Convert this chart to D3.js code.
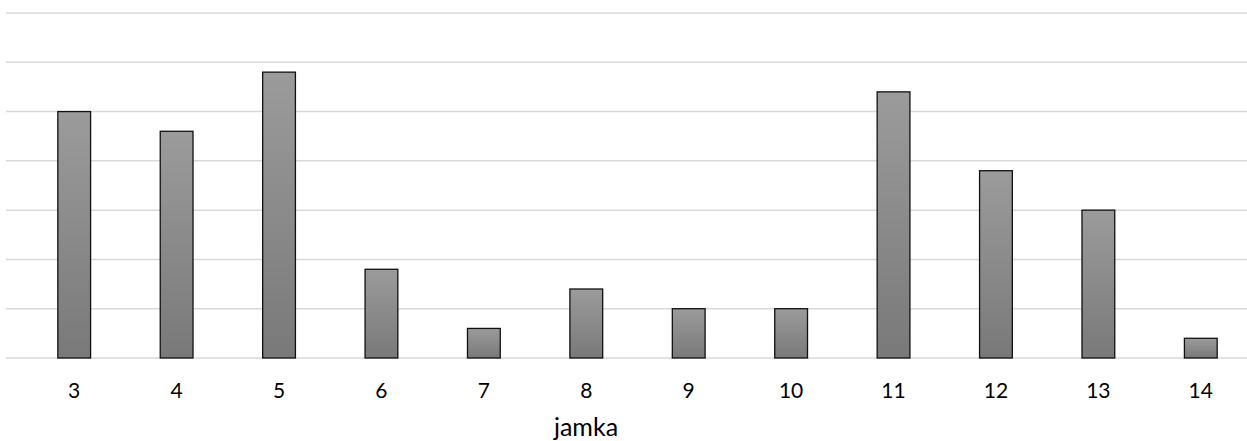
<!DOCTYPE html>
<html lang="pl">
<head>
    <meta charset="UTF-8">
    <title>jamka</title>
    <script src="https://cdn.jsdelivr.net/npm/d3@7/dist/d3.min.js"></script>
    <style>
        body { margin: 0; background: #fff; }
        svg text { font-family: Lato, "Open Sans", sans-serif; fill: #000; }
    </style>
</head>
<body>
    <div id="grafico"></div>
    <script type="text/javascript">

        // data
        var categorias = ["3", "4", "5", "6", "7", "8", "9", "10", "11", "12", "13", "14"];
        var valores = [25, 23, 29, 9, 3, 7, 5, 5, 27, 19, 15, 2];
        var ticksY = [0, 5, 10, 15, 20, 25, 30, 35];
        var tituloX = "jamka";

        var w = 1247;
        var h = 441;

        var xScale = d3.scaleBand()
            .domain(categorias)
            .range([23, 1252])
            .paddingInner(0.68)
            .paddingOuter(0.34);

        var yScale = d3.scaleLinear()
            .domain([0, 35])
            .range([358, 13]);

        var svg = d3.select("#grafico")
            .append("svg")
            .attr("width", w)
            .attr("height", h);

        var grad = svg.append("defs").append("linearGradient")
            .attr("id", "barGrad")
            .attr("x1", 0).attr("y1", 0).attr("x2", 0).attr("y2", 1);
        grad.append("stop").attr("offset", "0%").attr("stop-color", "#9b9b9b");
        grad.append("stop").attr("offset", "100%").attr("stop-color", "#797979");

        // gridlines
        svg.selectAll("line.grid")
            .data(ticksY)
            .enter()
            .append("line")
            .attr("class", "grid")
            .attr("x1", 6)
            .attr("x2", w)
            .attr("y1", function(d) { return yScale(d); })
            .attr("y2", function(d) { return yScale(d); })
            .attr("stroke", "#d9d9d9")
            .attr("stroke-width", 1.5);

        // bars
        svg.selectAll("rect.bar")
            .data(valores)
            .enter()
            .append("rect")
            .attr("class", "bar")
            .attr("x", function(d, i) { return xScale(categorias[i]); })
            .attr("y", function(d) { return yScale(d); })
            .attr("width", xScale.bandwidth())
            .attr("height", function(d) { return yScale(0) - yScale(d); })
            .attr("fill", "url(#barGrad)")
            .attr("stroke", "#111")
            .attr("stroke-width", 1.3);

        // x axis labels
        var xAxis = d3.axisBottom(xScale).tickSize(0).tickPadding(25);
        var gx = svg.append("g")
            .attr("transform", "translate(0," + yScale(0) + ")")
            .call(xAxis);
        gx.select(".domain").remove();
        gx.selectAll("text")
            .attr("font-size", "21px")
            .style("font-family", "Lato, 'Open Sans', sans-serif");

        svg.append("text")
            .attr("x", 586)
            .attr("y", 436)
            .attr("text-anchor", "middle")
            .attr("font-size", "25px")
            .text(tituloX);

    </script>
</body>
</html>
